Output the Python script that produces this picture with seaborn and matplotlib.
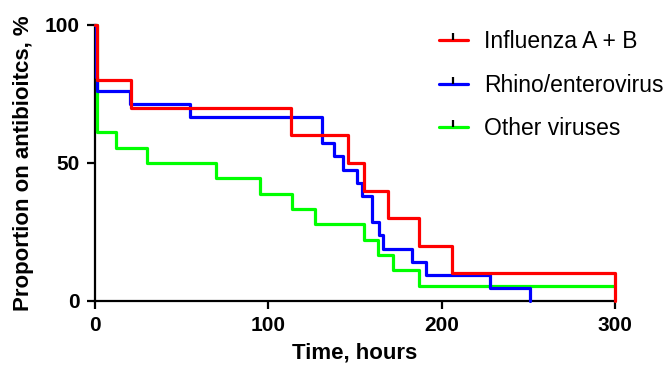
import pandas as pd
import matplotlib
matplotlib.use("Agg")
import matplotlib.pyplot as plt
from matplotlib.lines import Line2D
import seaborn as sns

# Kaplan-Meier style step data (time in hours, % still on antibiotics)
flu_time = [0, 1, 21, 113, 146, 155, 169, 187, 206, 300]
flu_pct = [100, 80, 70, 60, 50, 40, 30, 20, 10, 0]

rhino_time = [0, 0.5, 1, 20, 55, 131, 138, 143, 151, 154, 160, 164, 166, 183, 191, 228, 251]
rhino_pct = [100, 81.0, 76.2, 71.4, 66.7, 57.1, 52.4, 47.6, 42.9, 38.1, 28.6, 23.8, 19.0, 14.3, 9.5, 4.8, 0]

other_time = [0, 1, 12, 30, 70, 95, 113.5, 127, 155, 163, 172, 187, 300]
other_pct = [100, 61.1, 55.6, 50.0, 44.4, 38.9, 33.3, 27.8, 22.2, 16.7, 11.1, 5.6, 5.6]

groups = ["Influenza A + B", "Rhino/enterovirus", "Other viruses"]
colors = ["#FF0000", "#0000FF", "#00FF00"]

frames = []
for name, t, p in zip(groups, [flu_time, rhino_time, other_time], [flu_pct, rhino_pct, other_pct]):
    frames.append(pd.DataFrame({"time": t, "pct": p, "group": name}))
df = pd.concat(frames, ignore_index=True)

sns.set_style("ticks")
plt.rcParams["font.family"] = ["Liberation Sans", "DejaVu Sans"]
plt.rcParams["text.color"] = "black"
plt.rcParams["axes.labelcolor"] = "black"
plt.rcParams["xtick.color"] = "black"
plt.rcParams["ytick.color"] = "black"

fig = plt.figure(figsize=(6.65, 3.70), dpi=100)
ax = fig.add_axes([95 / 665, 1 - 301 / 370, 520 / 665, 276 / 370])

# draw in reverse so red ends up on top
for name, c in reversed(list(zip(groups, colors))):
    sub = df[df["group"] == name]
    sns.lineplot(data=sub, x="time", y="pct", color=c, lw=2.3, drawstyle="steps-post",
                 estimator=None, sort=False, ax=ax, clip_on=False, zorder=3)

ax.set_xlim(0, 300)
ax.set_ylim(0, 100)
ax.set_xticks([0, 100, 200, 300])
ax.set_yticks([0, 50, 100])
sns.despine(ax=ax)
for s in ["left", "bottom"]:
    ax.spines[s].set_linewidth(1.6)
    ax.spines[s].set_color("black")
ax.tick_params(width=1.6, length=6, color="black", labelcolor="black", labelsize=15)
ax.tick_params(axis="y", pad=5)
ax.tick_params(axis="x", pad=5)
for lab in ax.get_xticklabels() + ax.get_yticklabels():
    lab.set_fontweight("bold")

ax.set_xlabel("Time, hours", fontsize=16, fontweight="bold", labelpad=5)
ax.set_ylabel("Proportion on antibioitcs, %", fontsize=16, fontweight="bold", labelpad=8)

handles = [Line2D([0], [0], color=c, lw=2.3, marker=2, markersize=5,
                  markeredgecolor="black", markeredgewidth=1.6) for c in colors]
fig.legend(handles, groups, loc="upper left", bbox_to_anchor=(439 / 665, 1 - 30 / 370),
           frameon=False, fontsize=16.5, handlelength=1.25, handletextpad=0.7,
           labelspacing=0.9, borderpad=0, borderaxespad=0, numpoints=1)

fig.savefig("out.png", dpi=100)
